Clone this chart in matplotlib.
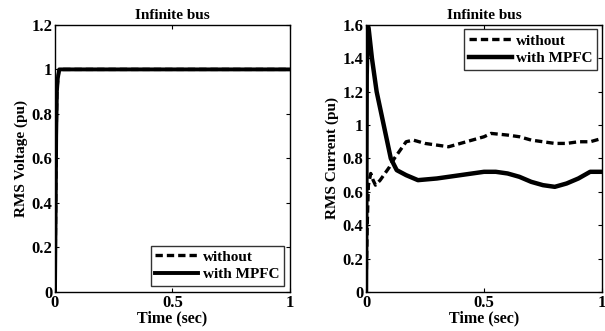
import matplotlib.pyplot as plt

plt.rcParams['font.family'] = ['Liberation Serif', 'DejaVu Serif']
plt.rcParams['font.weight'] = 'bold'

# voltage at infinite bus (both cases overlap)
t_v = [0.0, 0.003, 0.005, 0.008, 0.012, 0.018, 0.05, 0.5, 1.0]
v_without = [0.0, 0.4, 0.7, 0.9, 0.96, 1.0, 1.0, 1.0, 1.0]
v_mpfc = [0.0, 0.4, 0.7, 0.9, 0.96, 1.0, 1.0, 1.0, 1.0]

# current at infinite bus
t_i_without = [0.0, 0.005, 0.01, 0.02, 0.03, 0.04, 0.06, 0.08, 0.1, 0.12, 0.15, 0.17, 0.2,
               0.25, 0.3, 0.35, 0.4, 0.45, 0.5, 0.53, 0.6, 0.65, 0.7, 0.75, 0.8, 0.85, 0.9, 0.95, 1.0]
i_without = [0.0, 0.4, 0.64, 0.71, 0.67, 0.64, 0.67, 0.71, 0.75, 0.8, 0.86, 0.9, 0.91,
             0.89, 0.88, 0.87, 0.89, 0.91, 0.93, 0.95, 0.94, 0.93, 0.91, 0.9, 0.89, 0.89, 0.9, 0.9, 0.92]
t_i_mpfc = [0.0, 0.003, 0.007, 0.011, 0.025, 0.045, 0.075, 0.105, 0.13, 0.17, 0.22,
            0.3, 0.35, 0.4, 0.45, 0.5, 0.55, 0.6, 0.65, 0.7, 0.75, 0.8, 0.85, 0.9, 0.95, 1.0]
i_mpfc = [0.0, 1.3, 1.6, 1.58, 1.4, 1.2, 1.0, 0.8, 0.73, 0.7, 0.67,
          0.68, 0.69, 0.7, 0.71, 0.72, 0.72, 0.71, 0.69, 0.66, 0.64, 0.63, 0.65, 0.68, 0.72, 0.72]

fig = plt.figure(figsize=(6.05, 3.31), dpi=100)
ax1 = fig.add_axes([0.0909, 0.1178, 0.388, 0.807])
ax2 = fig.add_axes([0.605, 0.1178, 0.390, 0.807])

ax1.plot(t_v, v_without, color='black', linestyle='--', dashes=(2.2, 1.2), linewidth=2.4, label='without')
ax1.plot(t_v, v_mpfc, color='black', linestyle='-', linewidth=2.8, label='with MPFC')
ax1.set_xlim(0, 1)
ax1.set_ylim(0, 1.2)
ax1.set_yticks([0, 0.2, 0.4, 0.6, 0.8, 1.0, 1.2])
ax1.set_yticklabels(['0', '0.2', '0.4', '0.6', '0.8', '1', '1.2'])
ax1.set_ylabel('RMS Voltage (pu)', fontsize=11, fontweight='bold', labelpad=2)
ax1.legend(loc='lower right', fontsize=11, frameon=True, fancybox=False, edgecolor='black',
           handlelength=2.8, handletextpad=0.3, borderaxespad=0.4, labelspacing=0.25,
           borderpad=0.3)

ax2.plot(t_i_without, i_without, color='black', linestyle='--', dashes=(2.2, 1.2), linewidth=2.4, label='without')
ax2.plot(t_i_mpfc, i_mpfc, color='black', linestyle='-', linewidth=3.2, label='with MPFC')
ax2.set_xlim(0, 1)
ax2.set_ylim(0, 1.6)
ax2.set_yticks([0, 0.2, 0.4, 0.6, 0.8, 1.0, 1.2, 1.4, 1.6])
ax2.set_yticklabels(['0', '0.2', '0.4', '0.6', '0.8', '1', '1.2', '1.4', '1.6'])
ax2.set_ylabel('RMS Current (pu)', fontsize=11, fontweight='bold', labelpad=2)
ax2.legend(loc='upper right', fontsize=11, frameon=True, fancybox=False, edgecolor='black',
           handlelength=2.8, handletextpad=0.3, borderaxespad=0.3, labelspacing=0.25,
           borderpad=0.3)

for ax in (ax1, ax2):
    ax.set_title('Infinite bus', fontsize=11, fontweight='bold', pad=4)
    ax.set_xlabel('Time (sec)', fontsize=11.5, fontweight='bold', labelpad=0)
    ax.set_xticks([0, 0.5, 1])
    ax.set_xticklabels(['0', '0.5', '1'])
    ax.tick_params(direction='in', top=True, right=True, labelsize=12, length=3, pad=2)
    for s in ax.spines.values():
        s.set_linewidth(1.0)

fig.savefig('out.png', dpi=100)
